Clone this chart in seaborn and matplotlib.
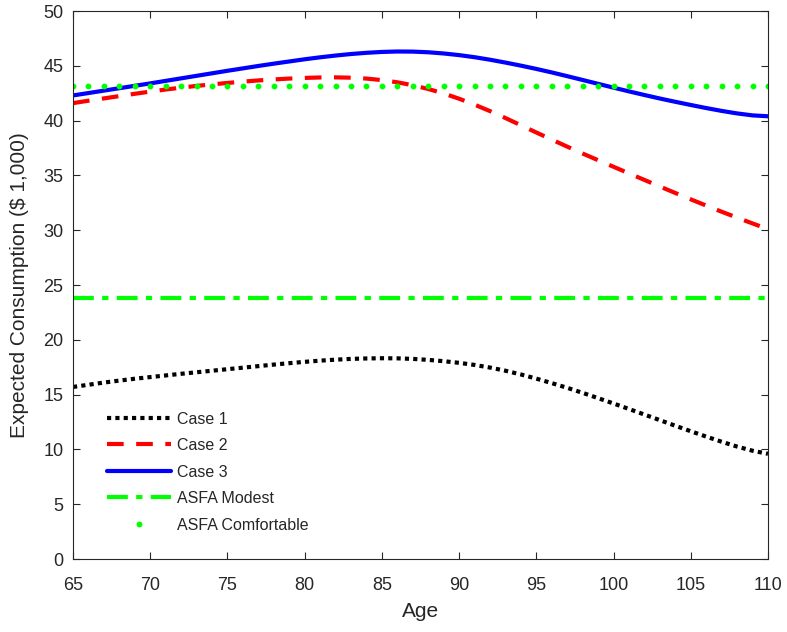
import numpy as np
import pandas as pd
import matplotlib
matplotlib.use("Agg")
import matplotlib.pyplot as plt
import seaborn as sns

ages = list(range(65, 111))
case1 = [15.7, 15.9, 16.1, 16.28, 16.45, 16.6, 16.75, 16.9, 17.04, 17.18,
         17.32, 17.46, 17.6, 17.74, 17.87, 17.99, 18.1, 18.19, 18.26, 18.3,
         18.32, 18.31, 18.26, 18.17, 18.05, 17.9, 17.71, 17.47, 17.18, 16.84,
         16.46, 16.05, 15.62, 15.16, 14.68, 14.19, 13.69, 13.18, 12.67, 12.16,
         11.66, 11.17, 10.7, 10.26, 9.88, 9.6]
case2 = [41.6, 41.82, 42.03, 42.24, 42.45, 42.65, 42.84, 43.01, 43.17, 43.31,
         43.44, 43.56, 43.67, 43.76, 43.84, 43.9, 43.94, 43.95, 43.92, 43.84,
         43.7, 43.5, 43.23, 42.89, 42.48, 42.0, 41.46, 40.87, 40.24, 39.58,
         38.92, 38.27, 37.63, 37.0, 36.39, 35.79, 35.19, 34.59, 33.99, 33.4,
         32.82, 32.25, 31.69, 31.15, 30.62, 30.1]
case3 = [42.3, 42.52, 42.74, 42.96, 43.18, 43.4, 43.63, 43.86, 44.09, 44.32,
         44.55, 44.77, 44.99, 45.2, 45.4, 45.6, 45.78, 45.94, 46.08, 46.19,
         46.27, 46.31, 46.3, 46.24, 46.13, 45.98, 45.79, 45.56, 45.3, 45.02,
         44.72, 44.4, 44.06, 43.71, 43.36, 43.01, 42.67, 42.34, 42.02, 41.72,
         41.43, 41.15, 40.89, 40.66, 40.48, 40.4]
modest_val = 23.8
comfortable_val = 43.2

sns.set_theme(style="ticks")
plt.rcParams['font.family'] = ['Liberation Sans', 'DejaVu Sans']

fig = plt.figure(figsize=(7.87, 6.32), dpi=100)
ax = fig.add_axes([0.0928, 0.1155, 0.883, 0.867])

df = pd.DataFrame({"Age": ages, "c1": case1, "c2": case2, "c3": case3,
                   "modest": [modest_val] * len(ages),
                   "comfortable": [comfortable_val] * len(ages)})
sns.lineplot(data=df, x="Age", y="c1", ax=ax, color="black", lw=3, linestyle=(0, (1, 1)), label="Case 1")
sns.lineplot(data=df, x="Age", y="c2", ax=ax, color="#ff0000", lw=3, linestyle=(0, (4, 3)), label="Case 2")
sns.lineplot(data=df, x="Age", y="c3", ax=ax, color="#0000ff", lw=3, linestyle="-", label="Case 3")
sns.lineplot(data=df, x="Age", y="modest", ax=ax, color="#00ff00", lw=3, linestyle=(0, (5, 2, 1.5, 2)), label="ASFA Modest")
ax.plot(df["Age"], df["comfortable"], color="#00ff00", lw=0, marker="o", ms=3.2, label="ASFA Comfortable")

ax.set_xlim(65, 110)
ax.set_ylim(0, 50)
ax.set_xticks(range(65, 111, 5))
ax.set_yticks(range(0, 51, 5))
ax.tick_params(direction="in", top=True, right=True, labelsize=13, colors="#262626", length=5, width=0.8)
ax.tick_params(axis="x", pad=13)
ax.tick_params(axis="y", pad=7)
for s in ax.spines.values():
    s.set_color("#262626")
    s.set_linewidth(0.8)
ax.set_xlabel("Age", fontsize=15, color="#262626", labelpad=6)
ax.set_ylabel("Expected Consumption ($ 1,000)", fontsize=15, color="#262626", labelpad=10)

leg = ax.legend(loc="lower left", bbox_to_anchor=(0.028, 0.022), frameon=False, fontsize=11.5,
                handlelength=4, labelspacing=0.72, handletextpad=0.4)
fig.savefig("out.png", dpi=100)
